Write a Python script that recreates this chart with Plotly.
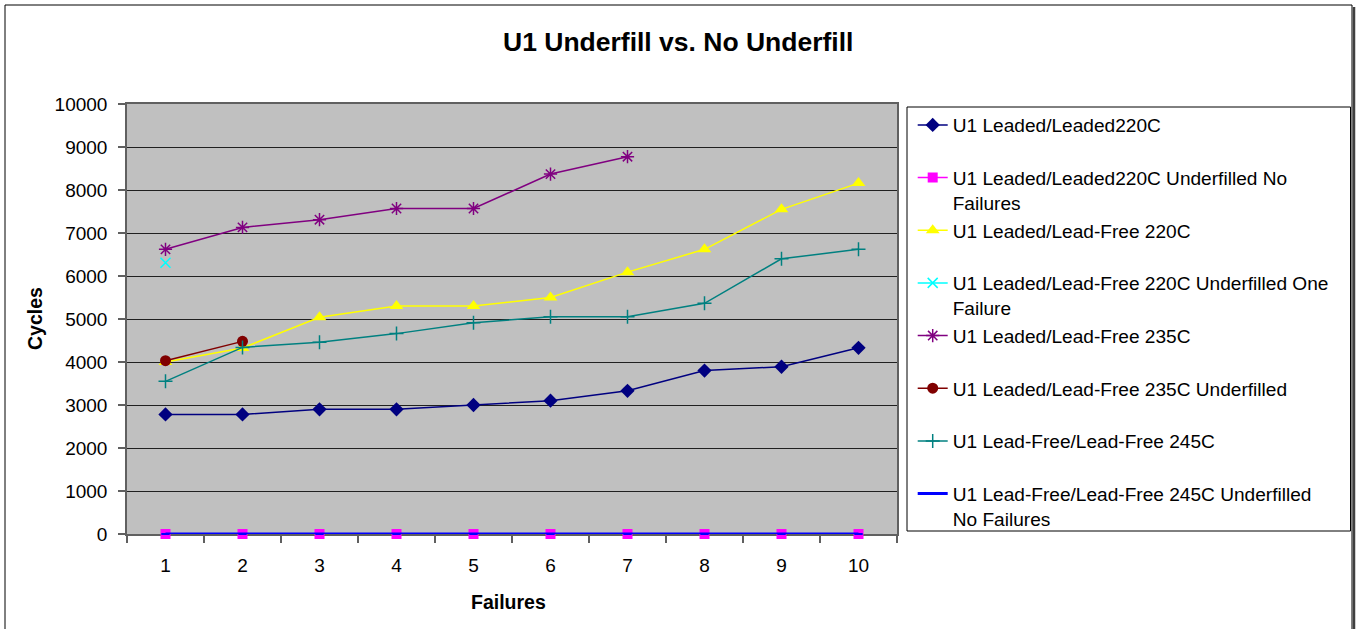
import plotly.graph_objects as go

failures = ["1", "2", "3", "4", "5", "6", "7", "8", "9", "10"]

leaded_220 = [2780, 2780, 2900, 2900, 3000, 3100, 3330, 3800, 3890, 4330]
leaded_220_uf = [0, 0, 0, 0, 0, 0, 0, 0, 0, 0]
lf_220 = [4000, 4325, 5040, 5300, 5300, 5500, 6090, 6620, 7550, 8160]
lf_220_uf = [6310]
lf_235 = [6620, 7130, 7310, 7570, 7570, 8370, 8775]
lf_235_uf = [4030, 4480]
lflf_245 = [3550, 4340, 4460, 4660, 4915, 5050, 5050, 5365, 6400, 6620]
lflf_245_uf = [0, 0, 0, 0, 0, 0, 0, 0, 0, 0]

names = [
    "U1 Leaded/Leaded220C",
    "U1 Leaded/Leaded220C Underfilled No<br>Failures",
    "U1 Leaded/Lead-Free 220C",
    "U1 Leaded/Lead-Free 220C Underfilled One<br>Failure",
    "U1 Leaded/Lead-Free 235C",
    "U1 Leaded/Lead-Free 235C Underfilled",
    "U1 Lead-Free/Lead-Free 245C",
    "U1 Lead-Free/Lead-Free 245C Underfilled<br>No Failures",
]

FONT = "Arial, Liberation Sans, sans-serif"

W, H = 1356, 629
L, T, PW, PH = 127, 104, 770, 430
R = W - L - PW
B = H - T - PH


def px(x):
    return (x - L) / PW


def py(y):
    return (T + PH - y) / PH


series = [
    (leaded_220, "#000080", dict(symbol="diamond", size=11, color="#000080"), 1.5),
    (leaded_220_uf, "#FF00FF", dict(symbol="square", size=10, color="#FF00FF"), 1.5),
    (lf_220, "#FFFF00", dict(symbol="triangle-up", size=12, color="#FFFF00"), 1.5),
    (lf_220_uf, "#00FFFF", dict(symbol="x-thin", size=10, color="#00FFFF",
                                 line=dict(color="#00FFFF", width=1.5)), 1.5),
    (lf_235, "#800080", dict(symbol="asterisk", size=11, color="#800080",
                              line=dict(color="#800080", width=1.5)), 1.5),
    (lf_235_uf, "#800000", dict(symbol="circle", size=11, color="#800000"), 1.5),
    (lflf_245, "#008080", dict(symbol="cross-thin", size=10, color="#008080",
                                line=dict(color="#008080", width=1.5)), 1.5),
    (lflf_245_uf, "#0000FF", dict(symbol="line-ew", size=6, color="#0000FF",
                                   line=dict(color="#0000FF", width=2)), 3),
]

fig = go.Figure()
for i, (vals, col, mk, lw) in enumerate(series):
    nm = names[i]
    if "<br>" not in nm:
        nm = nm + "<br>\u00a0"
    fig.add_trace(go.Scatter(
        x=failures[:len(vals)], y=vals, mode="lines+markers", name=nm,
        line=dict(color=col, width=lw), marker=mk, cliponaxis=False,
    ))

shapes = [
    # outer chart border
    dict(type="rect", xref="paper", yref="paper", x0=px(5), x1=px(1352), y0=py(650), y1=py(5),
         line=dict(color="#000000", width=1), layer="below"),
    dict(type="line", xref="paper", yref="paper", x0=px(1354), x1=px(1354), y0=py(650), y1=py(7),
         line=dict(color="#404040", width=2.5)),
    # legend box
    dict(type="rect", xref="paper", yref="paper", x0=px(907), x1=px(1350.5), y0=py(531), y1=py(107),
         line=dict(color="#000000", width=1)),
]

annotations = [
    dict(text="<b>U1 Underfill vs. No Underfill</b>", xref="paper", yref="paper",
         x=px(678), y=py(42), xanchor="center", yanchor="middle", showarrow=False,
         font=dict(family=FONT, size=26.5, color="#000000")),
    dict(text="<b>Cycles</b>", xref="paper", yref="paper", textangle=-90,
         x=px(34.5), y=py(318.5), xanchor="center", yanchor="middle", showarrow=False,
         font=dict(family=FONT, size=19.5, color="#000000")),
    dict(text="<b>Failures</b>", xref="paper", yref="paper",
         x=px(508), y=py(601.5), xanchor="center", yanchor="middle", showarrow=False,
         font=dict(family=FONT, size=19.5, color="#000000")),
]

fig.update_layout(
    width=W, height=H,
    margin=dict(l=L, r=R, t=T, b=B, pad=0),
    paper_bgcolor="#FFFFFF",
    plot_bgcolor="#C0C0C0",
    font=dict(family=FONT, size=19, color="#000000"),
    showlegend=True,
    legend=dict(x=px(912.7), y=py(106), xanchor="left", yanchor="top",
                bgcolor="rgba(0,0,0,0)", borderwidth=0, valign="top",
                font=dict(family=FONT, size=19.1, color="#000000"),
                tracegroupgap=0, maxheight=2000),
    shapes=shapes,
    annotations=annotations,
    xaxis=dict(type="category", categoryorder="array", categoryarray=failures,
               range=[-0.5, 9.5], showgrid=False, zeroline=False,
               showline=True, linecolor="#606060", linewidth=1.5, mirror=True,
               ticks="outside", ticklen=7, tickcolor="#606060", tickwidth=1.5,
               tickson="boundaries", tickfont=dict(family=FONT, size=19),
               ticklabelstandoff=13, layer="below traces"),
    yaxis=dict(range=[0, 10000], tickmode="array",
               tickvals=[0, 1000, 2000, 3000, 4000, 5000, 6000, 7000, 8000, 9000, 10000],
               ticktext=["0", "1000", "2000", "3000", "4000", "5000", "6000", "7000", "8000", "9000", "10000"],
               showgrid=True, gridcolor="#202020", gridwidth=1.2, zeroline=False,
               showline=True, linecolor="#606060", linewidth=1.5, mirror=True,
               ticks="outside", ticklen=7, tickcolor="#606060", tickwidth=1.5,
               tickfont=dict(family=FONT, size=19), ticklabelstandoff=7,
               layer="below traces"),
)

fig.write_html(
    "out.html",
    config={"displayModeBar": False},
    post_script="document.body.style.margin='0';document.body.style.overflow='hidden';",
)
